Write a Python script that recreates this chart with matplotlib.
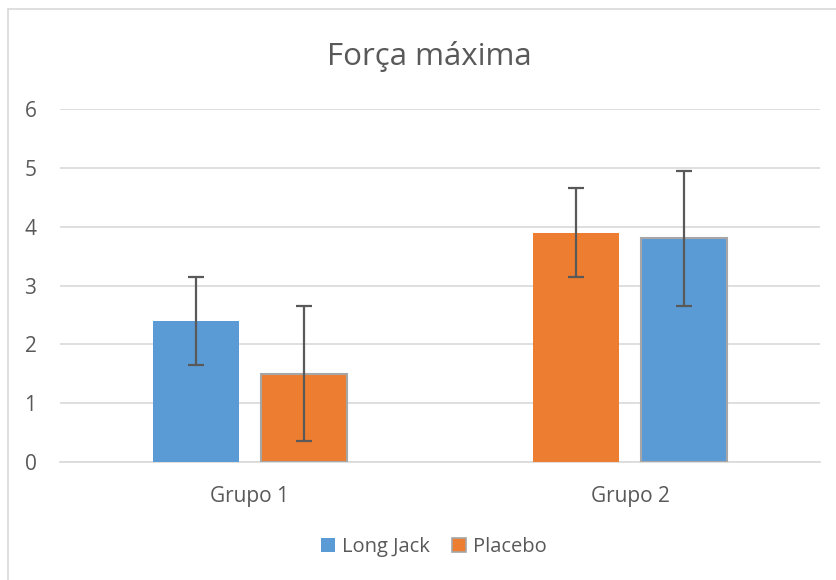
import matplotlib.pyplot as plt
import numpy as np
from matplotlib.patches import Patch
from matplotlib.lines import Line2D

categories = ['Grupo 1', 'Grupo 2']
# series 1 (Long Jack) and series 2 (Placebo) as drawn per group
s1_values = [2.4, 3.9]
s1_errors = [0.75, 0.75]
s2_values = [1.5, 3.8]
s2_errors = [1.15, 1.15]

BLUE = '#5B9BD5'
ORANGE = '#ED7D31'
s1_colors = [BLUE, ORANGE]
s2_colors = [ORANGE, BLUE]
TEXT = '#595959'

plt.rcParams['font.family'] = ['Open Sans', 'DejaVu Sans']

fig = plt.figure(figsize=(8.36, 5.8), dpi=100)
ax = fig.add_axes([60 / 836, 1 - 462 / 580, 760 / 836, (462 - 109) / 580])

# chart border (left and top visible)
fig.add_artist(Line2D([8 / 836, 8 / 836], [0, 1 - 9 / 580], transform=fig.transFigure,
                      color='#D9D9D9', lw=1.2))
fig.add_artist(Line2D([8 / 836, 1], [1 - 9 / 580, 1 - 9 / 580], transform=fig.transFigure,
                      color='#D9D9D9', lw=1.2))

x = np.arange(len(categories))
w = 0.226
off = 0.142
err_kw = dict(ecolor='#595959', elinewidth=1.6, capsize=6, capthick=1.6)
ax.bar(x - off, s1_values, w, color=s1_colors, yerr=s1_errors, error_kw=err_kw, zorder=3)
ax.bar(x + off, s2_values, w, color=s2_colors, edgecolor='#A6A6A6', linewidth=1.5,
       yerr=s2_errors, error_kw=err_kw, zorder=3)

ax.set_xlim(-0.5, 1.5)
ax.set_ylim(0, 6)
ax.set_yticks(range(7))
ax.set_xticks(x)
ax.set_xticklabels(categories)
ax.yaxis.grid(True, color='#D9D9D9', lw=1.2, zorder=0)
for s in ['top', 'right', 'left']:
    ax.spines[s].set_visible(False)
ax.spines['bottom'].set_color('#D9D9D9')
ax.spines['bottom'].set_linewidth(1.2)
ax.tick_params(axis='both', length=0, labelsize=15, colors=TEXT)
ax.tick_params(axis='y', pad=17)
ax.tick_params(axis='x', pad=17)

fig.text(429 / 836, 1 - 57 / 580, 'Força máxima', ha='center', va='center', fontsize=22.5,
         color=TEXT)

handles = [Patch(facecolor=BLUE, label='Long Jack'),
           Patch(facecolor=ORANGE, edgecolor='#A6A6A6', linewidth=1.2, label='Placebo')]
fig.legend(handles=handles, loc='center', bbox_to_anchor=(0.519, 1 - 547 / 580), ncol=2,
           frameon=False, fontsize=14.5, labelcolor=TEXT, handlelength=0.7, handleheight=0.7,
           handletextpad=0.35, columnspacing=1.1)

fig.savefig('out.png', dpi=100, facecolor='white')
